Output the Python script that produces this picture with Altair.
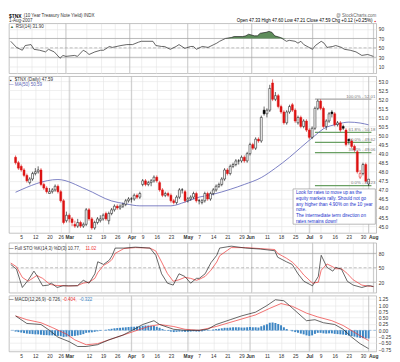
import json
import altair as alt
import pandas as pd

FONT = "Liberation Sans"

# ---------------- data ----------------
holidays = ["2007-02-19", "2007-04-06", "2007-05-28", "2007-07-04"]
days = [d for d in pd.bdate_range("2007-02-01", "2007-08-01").strftime("%Y-%m-%d") if d not in holidays]

opens = [48.8, 48.5, 48.3, 48.1, 47.8, 47.4, 47.6, 47.9, 48.0, 48.1,
         47.3, 47.1, 46.8, 46.9, 47.0, 47.2, 46.9, 46.4, 45.3, 45.6,
         45.4, 45.1, 45.0, 45.2, 45.0, 45.1, 45.9, 45.4, 44.9, 45.2,
         45.3, 45.4, 45.7, 45.3, 45.7, 45.9, 46.1, 46.0, 46.1, 46.2,
         46.4, 46.5, 46.5, 46.7, 46.6, 47.3, 47.5, 47.3, 47.4, 47.5,
         47.7, 47.4, 47.0, 46.7, 46.8, 46.7, 46.4, 46.3, 46.6, 47.0,
         46.9, 46.4, 46.5, 46.6, 46.8, 46.4, 46.3, 46.4, 46.8, 46.5,
         46.8, 47.0, 47.2, 47.3, 47.6, 48.1, 47.9, 48.3, 48.4, 48.6,
         48.6, 48.8, 48.6, 49.0, 49.5, 49.3, 49.8, 49.7, 51.4, 51.2,
         51.4, 52.9, 52.0, 52.2, 51.6, 51.3, 50.7, 51.3, 51.7, 51.4,
         50.7, 51.0, 50.5, 50.8, 50.3, 49.9, 50.4, 51.5, 51.9, 51.5,
         50.5, 50.8, 51.3, 51.2, 50.6, 50.7, 50.5, 50.3, 49.8, 49.7,
         49.4, 49.1, 47.7, 47.9, 48.4, 47.33]
highs = [48.9, 48.6, 48.4, 48.2, 47.9, 47.7, 48.0, 48.2, 48.3, 48.2,
         47.4, 47.2, 47.1, 47.1, 47.3, 47.3, 47.0, 46.5, 45.8, 45.7,
         45.5, 45.3, 45.4, 45.3, 45.2, 46.0, 46.0, 45.5, 45.3, 45.5,
         45.6, 45.7, 45.8, 45.8, 46.0, 46.2, 46.2, 46.2, 46.3, 46.5,
         46.6, 46.6, 46.8, 46.8, 46.9, 47.6, 47.6, 47.5, 47.6, 47.8,
         47.8, 47.5, 47.1, 46.9, 46.9, 46.8, 46.5, 46.7, 47.1, 47.1,
         47.0, 46.6, 46.7, 46.9, 46.9, 46.5, 46.5, 46.9, 46.9, 46.9,
         47.1, 47.3, 47.4, 47.7, 48.2, 48.2, 48.4, 48.5, 48.7, 48.7,
         48.9, 48.9, 49.1, 49.6, 49.6, 49.9, 49.9, 51.1, 51.6, 51.5,
         52.8, 53.1, 52.4, 52.3, 51.7, 51.4, 51.4, 51.7, 51.8, 51.5,
         51.1, 51.1, 50.9, 50.9, 50.4, 50.5, 51.6, 52.0, 52.0, 51.6,
         50.9, 51.3, 51.4, 51.3, 50.8, 50.8, 50.6, 50.4, 49.8, 49.8,
         49.5, 49.2, 48.1, 48.5, 48.5, 47.60]
lows = [48.4, 48.1, 48.0, 47.7, 47.4, 47.3, 47.5, 47.8, 47.9, 47.2,
        47.0, 46.8, 46.8, 46.8, 46.9, 46.8, 46.3, 45.1, 45.2, 45.2,
        45.0, 44.9, 44.9, 44.9, 44.9, 45.0, 45.3, 44.8, 44.8, 45.1,
        45.2, 45.3, 45.3, 45.1, 45.6, 45.8, 45.9, 45.9, 46.0, 46.1,
        46.3, 46.3, 46.4, 46.5, 46.5, 47.2, 47.2, 47.2, 47.2, 47.4,
        47.4, 46.9, 46.6, 46.6, 46.6, 46.3, 46.2, 46.2, 46.5, 46.8,
        46.3, 46.3, 46.4, 46.5, 46.3, 46.2, 46.2, 46.3, 46.4, 46.4,
        46.7, 46.9, 47.1, 47.2, 47.5, 47.8, 47.8, 48.2, 48.3, 48.4,
        48.5, 48.5, 48.5, 48.9, 49.2, 49.2, 49.6, 49.6, 51.1, 51.0,
        51.3, 51.9, 51.9, 51.5, 51.2, 50.6, 50.6, 51.2, 51.3, 50.7,
        50.6, 50.4, 50.4, 50.2, 49.8, 49.8, 50.3, 51.4, 51.4, 50.4,
        50.3, 50.7, 51.0, 50.5, 50.5, 50.2, 50.3, 49.4, 49.5, 49.3,
        49.1, 47.9, 47.6, 47.8, 47.4, 47.21]
closes = [48.5, 48.2, 48.1, 47.8, 47.5, 47.6, 47.9, 48.0, 48.1, 47.3,
          47.1, 46.9, 46.9, 47.0, 47.2, 46.9, 46.4, 45.2, 45.6, 45.4,
          45.2, 45.0, 45.2, 45.0, 45.1, 45.9, 45.4, 44.9, 45.2, 45.4,
          45.4, 45.6, 45.4, 45.7, 45.9, 46.1, 46.0, 46.1, 46.2, 46.4,
          46.5, 46.5, 46.7, 46.6, 46.8, 47.5, 47.3, 47.4, 47.5, 47.7,
          47.5, 47.0, 46.7, 46.8, 46.7, 46.4, 46.3, 46.6, 47.0, 47.0,
          46.4, 46.5, 46.6, 46.8, 46.4, 46.4, 46.4, 46.8, 46.5, 46.8,
          47.0, 47.2, 47.3, 47.6, 48.1, 47.9, 48.3, 48.4, 48.6, 48.6,
          48.8, 48.6, 49.0, 49.5, 49.3, 49.8, 49.7, 51.0, 51.2, 51.4,
          52.6, 52.0, 52.2, 51.6, 51.3, 50.7, 51.3, 51.6, 51.4, 50.8,
          51.0, 50.5, 50.8, 50.3, 49.9, 50.4, 51.5, 51.9, 51.5, 50.5,
          50.8, 51.2, 51.2, 50.6, 50.7, 50.3, 50.4, 49.5, 49.7, 49.4,
          49.2, 48.0, 47.9, 48.4, 47.47, 47.59]

ma_idx = [0, 15, 25, 34, 39, 44, 55, 60, 65, 70, 76, 81, 87, 92, 97, 101, 106, 109, 114, 118, 122, 125]
ma_val = [46.87, 47.57, 47.03, 46.39, 46.23, 46.12, 46.12, 46.33, 46.6, 46.76, 47.03, 47.3,
          47.68, 48.2, 48.8, 49.34, 50.0, 50.37, 50.63, 50.74, 50.69, 50.59]

rsi_idx = [0, 2, 4, 5, 7, 8, 10, 12, 13, 15, 17, 18, 19, 22, 23, 25, 26, 27, 29, 31,
           32, 34, 35, 38, 40, 42, 44, 45, 48, 49, 50, 52, 53, 55, 57, 58, 60, 62, 63, 64,
           66, 68, 70, 71, 72, 74, 76, 77, 80, 81, 82, 84, 85, 86, 88, 89, 90, 91, 93, 95,
           96, 98, 99, 100, 101, 104, 105, 107, 108, 109, 111, 112, 114, 115, 117, 119, 121, 123, 124, 125]
rsi_val = [64, 51, 45, 55, 57, 47, 45, 41.5, 47, 41.5, 28, 34, 32, 34, 32, 45, 41.5, 36, 41.5, 45,
           45, 53, 51, 55, 57, 57, 62, 64, 64, 64, 55, 53, 53, 47, 53, 57, 49, 53, 53, 47,
           53, 51, 57, 60, 64, 70, 72, 74, 74, 75.5, 79, 75.5, 75.5, 81, 83, 85, 83, 75.5, 72, 64,
           66, 64, 60, 64, 57, 47, 55, 64, 60, 51, 53, 55, 51, 47, 45, 41.5, 34, 36, 34, 31.9]

sto_idx = [0, 2, 4, 6, 8, 9, 11, 13, 14, 16, 18, 20, 23, 25, 27, 29, 30, 32, 34, 35,
           36, 39, 43, 48, 50, 52, 54, 56, 58, 60, 62, 64, 65, 67, 69, 71, 72, 76, 81, 86,
           91, 92, 95, 97, 99, 101, 104, 106, 107, 109, 111, 112, 114, 116, 118, 121, 123, 124, 125]
sto_k = [57, 47, 9, 24, 43, 34, 12.5, 14, 18, 9, 12.5, 12.5, 12.5, 24, 18, 37.5, 62.5, 57, 66, 76,
         91, 91, 93, 91, 76, 37.5, 18, 14, 37.5, 32, 18, 28, 28, 37.5, 60.5, 76, 91, 95, 91, 89,
         85.5, 72, 62.5, 57, 37.5, 22, 12.5, 32, 76, 51, 43, 51, 47, 22, 14, 9, 12.5, 12.5, 10.77]
sto_d = [60, 52, 30, 22, 30, 34, 28, 18, 15, 13, 13, 12, 13, 18, 20, 28, 40, 55, 62, 68,
         80, 90, 92, 91, 85, 62, 38, 22, 25, 30, 28, 24, 26, 32, 45, 62, 75, 92, 92, 90,
         88, 80, 70, 62, 50, 35, 18, 20, 45, 58, 52, 48, 48, 38, 25, 14, 12, 11.5, 11.02]

macd_idx = [0, 4, 9, 12, 15, 19, 22, 25, 29, 33, 38, 42, 45, 49, 51, 56, 60, 65, 68, 71,
            76, 80, 85, 89, 92, 95, 97, 100, 103, 106, 109, 113, 116, 119, 122, 125]
macd_val = [0.57, 0.27, 0.23, 0.0, -0.27, -0.45, -0.64, -0.64, -0.57, -0.38, -0.19, 0.04, 0.23, 0.38, 0.23,
            0.04, 0.0, 0.0, 0.04, 0.23, 0.42, 0.57, 0.72, 0.98, 1.21, 1.17, 0.98, 0.68, 0.38, 0.42,
            0.30, 0.23, 0.04, -0.27, -0.53, -0.726]
sig_idx = [0, 4, 9, 13, 18, 21, 25, 29, 33, 38, 42, 47, 51, 56, 60, 65, 71, 78, 85, 90,
           94, 98, 103, 107, 112, 116, 121, 125]
sig_val = [0.57, 0.42, 0.30, 0.11, -0.15, -0.38, -0.57, -0.53, -0.38, -0.19, -0.04, 0.15, 0.23, 0.15,
           0.04, 0.0, 0.15, 0.38, 0.61, 0.87, 1.06, 0.95, 0.68, 0.53, 0.38, 0.19, -0.15, -0.404]
hist_val = [-0.05, -0.07, -0.09, -0.11, -0.13, -0.14, -0.15, -0.16, -0.16, -0.18,
            -0.19, -0.19, -0.20, -0.20, -0.21, -0.22, -0.23, -0.26, -0.25, -0.24,
            -0.23, -0.22, -0.20, -0.18, -0.15, -0.10, -0.09, -0.08, -0.06, -0.04,
            -0.02, 0.00, 0.02, 0.04, 0.06, 0.08, 0.09, 0.10, 0.11, 0.12,
            0.13, 0.14, 0.14, 0.15, 0.15, 0.18, 0.19, 0.19, 0.18, 0.17,
            0.14, 0.10, 0.05, 0.01, -0.02, -0.05, -0.07, -0.06, -0.05, -0.05,
            -0.06, -0.06, -0.05, -0.04, -0.05, -0.05, -0.04, -0.02, -0.01, 0.01,
            0.03, 0.05, 0.06, 0.08, 0.10, 0.10, 0.11, 0.12, 0.12, 0.12,
            0.11, 0.11, 0.12, 0.13, 0.12, 0.12, 0.11, 0.16, 0.20, 0.24,
            0.30, 0.31, 0.29, 0.25, 0.20, 0.12, 0.05, 0.00, -0.04, -0.07,
            -0.10, -0.13, -0.16, -0.20, -0.22, -0.20, -0.14, -0.10, -0.10, -0.12,
            -0.13, -0.12, -0.12, -0.14, -0.15, -0.16, -0.17, -0.19, -0.21, -0.23,
            -0.25, -0.28, -0.30, -0.31, -0.32, -0.322]

fib_levels = [52.01, 50.18, 49.62, 49.06, 47.23]
fib_labels = ["100.0% - 52.01", "61.8% - 50.18", "50.0% - 49.62", "38.2% - 49.06", "0.0% - 47.23"]
fib_start = 106

tick_dates = ["2007-02-05", "2007-02-12", "2007-02-20", "2007-02-26", "2007-03-01", "2007-03-12",
              "2007-03-19", "2007-03-26", "2007-04-02", "2007-04-09", "2007-04-16", "2007-04-23",
              "2007-05-01", "2007-05-07", "2007-05-14", "2007-05-21", "2007-05-29", "2007-06-01",
              "2007-06-11", "2007-06-18", "2007-06-25", "2007-07-02", "2007-07-09", "2007-07-16",
              "2007-07-23", "2007-07-30", "2007-08-01"]
tick_labels = ["5", "12", "20", "26", "Mar", "12", "19", "26", "Apr", "9", "16", "23", "May", "7",
               "14", "21", "29", "Jun", "11", "18", "25", "Jul", "9", "16", "23", "30", "Aug"]
month_dates = ["2007-03-01", "2007-04-02", "2007-05-01", "2007-06-01", "2007-07-02", "2007-08-01"]

note_lines = ["Look for rates to move up as the",
              "equity markets rally.  Should not go",
              "any higher than 4.90% on the 10 year",
              "note.",
              "The intermediate term direction on",
              "rates remains down!"]

# ---------------- frames ----------------
n = len(days)
tick_idx = [days.index(d) for d in tick_dates]
month_idx = [days.index(d) for d in month_dates]

prev = [opens[0]] + closes[:-1]
candles = pd.DataFrame({
    "idx": list(range(n)), "o": opens, "h": highs, "l": lows, "c": closes,
    "bl": [min(a, b) for a, b in zip(opens, closes)],
    "bh": [max(a, b) for a, b in zip(opens, closes)],
    "col": ["#000000" if c >= p else "#dd1111" for c, p in zip(closes, prev)],
})
candles["fil"] = ["#ffffff" if c > o else col for c, o, col in zip(closes, opens, candles["col"])]
ma_df = pd.DataFrame({"idx": ma_idx, "v": ma_val})
rsi_df = pd.DataFrame({"idx": rsi_idx, "r": rsi_val})
sto_df = pd.DataFrame({"idx": sto_idx, "k": sto_k, "d": sto_d})
macd_df = pd.DataFrame({"idx": macd_idx, "m": macd_val})
sig_df = pd.DataFrame({"idx": sig_idx, "s": sig_val})
hist_df = pd.DataFrame({"idx": list(range(n)), "h": hist_val})
fib_df = pd.DataFrame({"lv": fib_levels, "lab": fib_labels,
                       "idx": [fib_start] * 5, "x1": [126] * 5,
                       "col": ["#aaaaaa", "#6aa063", "#6aa063", "#6aa063", "#6aa063"]})
month_df = pd.DataFrame({"idx": month_idx})

W = 375
XSCALE = alt.Scale(domain=[-0.6, 126], nice=False, zero=False)
label_expr = f"{json.dumps(tick_labels)}[indexof({json.dumps(tick_idx)}, datum.value)]"
bold_test = f"indexof({json.dumps(month_idx)}, datum.value) >= 0"
last_tick = tick_idx[-1]


def xaxis(show_labels):
    return alt.Axis(values=tick_idx, grid=True, gridColor="#e3e3e3", gridWidth=0.6,
                    labels=show_labels, ticks=False, domain=False, labelExpr=label_expr,
                    labelFontSize=5, labelFont=FONT, labelColor="#333", title=None,
                    labelOverlap=False, labelFlush=False, labelPadding=2,
                    labelAlign=alt.condition(f"datum.value == {last_tick}", alt.value("left"), alt.value("center")),
                    labelFontWeight=alt.condition(bold_test, alt.value("bold"), alt.value("normal")))


def yaxis(values, fmt):
    return alt.Axis(orient="right", values=values, format=fmt, grid=True, gridColor="#e3e3e3",
                    gridWidth=0.6, ticks=False, domain=False, labelFontSize=5, labelFont=FONT,
                    labelColor="#333", labelPadding=2, title=None)


def txt(t, x, y, size=4.6, color="#000000", weight="normal", align="left"):
    return alt.Chart(pd.DataFrame({"t": [t]})).mark_text(
        align=align, baseline="middle", fontSize=size, color=color, fontWeight=weight, font=FONT
    ).encode(x=alt.value(x), y=alt.value(y), text="t:N")


def panel_layers(xax, yscale, yax, y_lines, dash_line):
    """background month lines + reference lines, all sharing the panel's axes"""
    X = lambda f: alt.X(f, type="quantitative", scale=XSCALE, axis=xax, title=None)
    Y = lambda f: alt.Y(f, type="quantitative", scale=yscale, axis=yax, title=None)
    layers = [alt.Chart(month_df).mark_rule(color="#b8b8b8", strokeWidth=0.7).encode(x=X("idx"))]
    for v in y_lines:
        layers.append(alt.Chart(pd.DataFrame({"v": [v]})).mark_rule(color="#a0a0a0", strokeWidth=0.7)
                      .encode(y=Y("v")))
    if dash_line is not None:
        v, col = dash_line
        layers.append(alt.Chart(pd.DataFrame({"v": [v]})).mark_rule(color=col, strokeWidth=0.7,
                                                                     strokeDash=[3, 2]).encode(y=Y("v")))
    return X, Y, layers


# ---------------- RSI panel ----------------
rsi_scale = alt.Scale(domain=[-4, 102], nice=False, zero=False)
X, Y, rl = panel_layers(xaxis(False), rsi_scale, yaxis([10, 30, 50, 70, 90], "d"), [70, 30], (50, "#a0a0a0"))
rsi_base = alt.Chart(rsi_df)
rsi_fill = rsi_base.transform_calculate(top="max(datum.r, 70)", base="70").mark_area(
    color="#5d8c5a", interpolate="linear").encode(x=X("idx"), y=Y("top"), y2="base:Q")
rsi_line = rsi_base.mark_line(color="#222222", strokeWidth=0.7).encode(x=X("idx"), y=Y("r"))
rsi = alt.layer(
    *rl, rsi_fill, rsi_line,
    txt("$TNX", 0, -8, 5, weight="bold"),
    txt("(10 Year Treasury Note Yield) INDX", 15, -8, 4.6, color="#333"),
    txt("1-Aug-2007", 0, -2.5, 4.6, color="#333"),
    txt("@ StockCharts.com", W, -8, 4.6, color="#666", align="right"),
    txt("Open 47.33  High 47.60  Low 47.21  Close 47.59  Chg +0.12 (+0.25%)", W - 4, -2.5, 4.6, align="right"),
    txt("\u25aa", W, -2.5, 5, color="#dd1111", align="right"),
    txt("\u25b2", 1, 3.5, 4, color="#3d6b3a"),
    txt("RSI(14) 31.90", 7, 3.5, 4.6, color="#333"),
).properties(width=W, height=51)

# ---------------- price panel ----------------
pscale = alt.Scale(domain=[44.62, 53.27], nice=False, zero=False)
X, Y, pl = panel_layers(xaxis(True), pscale, yaxis([45.0 + 0.5 * k for k in range(17)], ".1f"), [], None)
cb = alt.Chart(candles)
wick = cb.mark_rule(strokeWidth=0.6).encode(
    x=X("idx"), y=Y("l"), y2="h:Q", color=alt.Color("col:N", scale=None))
body = cb.mark_bar(size=2.0, strokeWidth=0.5).encode(
    x=X("idx"), y=Y("bl"), y2="bh:Q",
    fill=alt.Fill("fil:N", scale=None), stroke=alt.Stroke("col:N", scale=None))
ma_line = alt.Chart(ma_df).mark_line(color="#5a5fb5", strokeWidth=0.8, interpolate="monotone").encode(
    x=X("idx"), y=Y("v"))
fib_rules = alt.Chart(fib_df).mark_rule(strokeWidth=1.3).encode(
    x=X("idx"), x2="x1:Q", y=Y("lv"), color=alt.Color("col:N", scale=None))
fib_text = alt.Chart(fib_df).mark_text(align="right", baseline="bottom", dy=-0.5, fontSize=4.4,
                                        color="#777777", font=FONT).encode(
    x=alt.value(W - 1), y=Y("lv"), text="lab:N")
note_box = alt.Chart(pd.DataFrame({"a": [0]})).mark_rect(
    fill="#ffffff", stroke="#9a9a9a", strokeWidth=0.7).encode(
    x=alt.value(290), x2=alt.value(374), y=alt.value(115), y2=alt.value(151))
note_text = alt.Chart(pd.DataFrame({"a": [0]})).mark_text(
    align="left", baseline="top", fontSize=4.7, lineHeight=5.8, color="#2233cc", font=FONT).encode(
    x=alt.value(293), y=alt.value(116.5), text=alt.value(note_lines))
price = alt.layer(
    *pl, fib_rules, ma_line, wick, body, fib_text, note_box, note_text,
    txt("\u25aa", 1, 3.5, 5, color="#000"),
    txt("$TNX (Daily) 47.59", 6, 3.5, 4.6, color="#333"),
    txt("\u2014", 0, 8.5, 4.6, color="#5a5fb5"),
    txt("MA(50) 50.59", 6, 8.5, 4.6, color="#5a5fb5"),
).properties(width=W, height=160)

# ---------------- stochastic panel ----------------
sscale = alt.Scale(domain=[-2, 102], nice=False, zero=False)
X, Y, sl = panel_layers(xaxis(False), sscale, yaxis([20, 50, 80], "d"), [80, 20], (50, "#a0a0a0"))
sb = alt.Chart(sto_df)
k_line = sb.mark_line(color="#222222", strokeWidth=0.7).encode(x=X("idx"), y=Y("k"))
d_line = sb.mark_line(color="#ee3333", strokeWidth=0.7).encode(x=X("idx"), y=Y("d"))
sto = alt.layer(
    *sl, d_line, k_line,
    txt("\u2014", 0, 6, 4.6, color="#222"),
    txt("Full STO %K(14,3) %D(3) 10.77,", 6, 6, 4.6, color="#333"),
    txt("11.02", 78, 6, 4.6, color="#ee3333"),
).properties(width=W, height=51)

# ---------------- MACD panel ----------------
mscale = alt.Scale(domain=[-0.84, 1.37], nice=False, zero=False)
X, Y, ml = panel_layers(xaxis(True), mscale, yaxis([-0.75, -0.5, -0.25, 0, 0.25, 0.5, 0.75, 1.0, 1.25], ".2f"),
                        [], (0, "#7fb0dd"))
hist = alt.Chart(hist_df).transform_calculate(z="0").mark_bar(size=2, color="#3d86c4").encode(
    x=X("idx"), y=Y("h"), y2="z:Q")
m_line = alt.Chart(macd_df).mark_line(color="#222222", strokeWidth=0.7).encode(x=X("idx"), y=Y("m"))
s_line = alt.Chart(sig_df).mark_line(color="#ee3333", strokeWidth=0.7).encode(x=X("idx"), y=Y("s"))
macd = alt.layer(
    *ml, hist, s_line, m_line,
    txt("\u2014", 0, 4, 4.6, color="#222"),
    txt("MACD(12,26,9) -0.726,", 6, 4, 4.6, color="#333"),
    txt("-0.404,", 55, 4, 4.6, color="#ee3333"),
    txt("-0.322", 72, 4, 4.6, color="#3d86c4"),
).properties(width=W, height=57)

chart = alt.vconcat(rsi, price, sto, macd, spacing=1).properties(
    padding={"left": 0, "top": 0, "right": 0, "bottom": 0}
).configure(background="#ffffff").configure_view(stroke="#a8a8a8", strokeWidth=0.7)

chart.save("out.html", embed_options={"renderer": "svg", "actions": False})
